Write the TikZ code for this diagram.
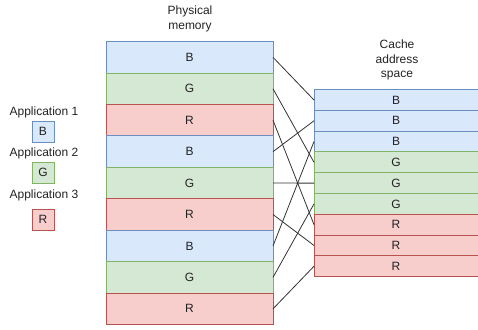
\documentclass[tikz,border=0pt]{standalone}
\usepackage{fontspec}
\setmainfont{Liberation Sans}
\definecolor{fillB}{HTML}{DAE8FC}
\definecolor{strokeB}{HTML}{6C8EBF}
\definecolor{fillG}{HTML}{D5E8D4}
\definecolor{strokeG}{HTML}{82B366}
\definecolor{fillR}{HTML}{F8CECC}
\definecolor{strokeR}{HTML}{B85450}
\definecolor{txt}{HTML}{222222}
\begin{document}
\begin{tikzpicture}[x=1pt,y=-1pt,
  font=\fontsize{12}{14.5}\selectfont, text=txt,
  colB/.style={fill=fillB, draw=strokeB},
  colG/.style={fill=fillG, draw=strokeG},
  colR/.style={fill=fillR, draw=strokeR},
  pcell/.style={line width=0.9pt, minimum width=167pt, minimum height=31.44pt, inner sep=0pt, outer sep=0pt, anchor=north west},
  ccell/.style={minimum width=164pt, minimum height=20.78pt, inner sep=0pt, outer sep=0pt, anchor=north west},
  appbox/.style={line width=0.9pt, minimum width=22pt, minimum height=21pt, inner sep=0pt},
  link/.style={draw=black!80, line width=0.8pt},
  lbl/.style={align=center, inner sep=0pt}]
\useasboundingbox (0,0) rectangle (478,329);
% physical memory
\foreach \c [count=\i from 0] in {B,G,R,B,G,R,B,G,R}
  \node[pcell, col\c] (p\i) at (106, 41.6+31.44*\i) {\c};
% cache address space
\foreach \c [count=\i from 0] in {B,B,B,G,G,G,R,R,R}{
  \node[ccell, fill=fill\c] (c\i) at (314, 89.6+20.78*\i) {\c};
  \draw[draw=stroke\c, line width=0.9pt] (c\i.north east) -- (c\i.north west) -- (c\i.south west) -- (c\i.south east);
}
% titles
\node[lbl] (pt) at (190,19) {Physical\\memory};
\node[lbl] (ct) at (397,60) {Cache\\address\\space};
% applications
\node[lbl] (a1) at (44,112) {Application 1};
\node[appbox, colB] (b1) at (43,131.5) {B};
\node[lbl] (a2) at (44,153) {Application 2};
\node[appbox, colG] (b2) at (43,172.5) {G};
\node[lbl] (a3) at (44,195) {Application 3};
\node[appbox, colR] (b3) at (43,219.5) {R};
% links
\draw[link] (p0.east) -- (c0.west);
\draw[link] (p1.east) -- (c3.west);
\draw[link] (p2.east) -- (c6.west);
\draw[link] (p3.east) -- (c1.west);
\draw[link] (p4.east) -- (c4.west);
\draw[link] (p5.east) -- (c7.west);
\draw[link] (p6.east) -- (c2.west);
\draw[link] (p7.east) -- (c5.west);
\draw[link] (p8.east) -- (c8.west);
\end{tikzpicture}
\end{document}
